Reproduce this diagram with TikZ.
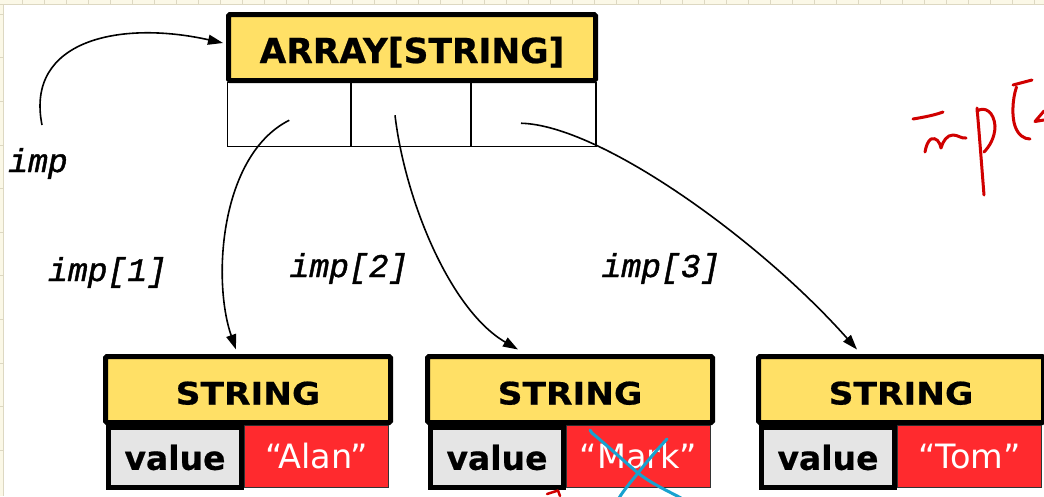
\documentclass[tikz,border=0pt]{standalone}
\usepackage{fontspec}
\setmainfont{DejaVu Sans}[BoldFeatures={FakeBold=0.6}]
\newfontfamily\monofont{Liberation Mono}[FakeBold=1.3]
\newfontfamily\strfont{DejaVu Sans}[FakeStretch=1.11, BoldFeatures={FakeBold=0.6}]
\usetikzlibrary{arrows.meta}
\definecolor{hdyellow}{HTML}{FFE066}
\definecolor{valred}{HTML}{FF2A2E}
\definecolor{valgray}{HTML}{E5E5E5}
\definecolor{cream}{HTML}{FBF8E7}
\definecolor{creamline}{HTML}{DDD8C2}
\definecolor{inkred}{HTML}{D00000}
\definecolor{inkblue}{HTML}{18A2CF}
\tikzset{
  hdbox/.style={draw=black, line width=5pt, fill=hdyellow, rounded corners=1.5pt, inner sep=0pt,
    font=\strfont\bfseries\fontsize{31}{31}\selectfont, text height=30pt, text depth=0pt},
  arrhd/.style={draw=black, line width=5pt, fill=hdyellow, rounded corners=1.5pt, inner sep=0pt,
    font=\bfseries\fontsize{34.5}{34.5}\selectfont, text height=31pt, text depth=0pt},
  cellbox/.style={draw=black, line width=1.5pt, fill=white, inner sep=0pt},
  valbox/.style={draw=black, line width=5pt, fill=valgray, inner sep=0pt,
    font=\bfseries\fontsize{33}{33}\selectfont},
  redbox/.style={draw=black!80, line width=1pt, fill=valred, text=white, inner sep=0pt,
    font=\fontsize{33.5}{33.5}\selectfont},
  lbl/.style={font=\monofont\itshape\fontsize{33}{33}\selectfont, inner sep=0pt, anchor=base},
  ptr/.style={line width=1.6pt, -{Triangle[length=15pt,width=10pt]}},
  inkr/.style={draw=inkred, line width=3pt, line cap=round, line join=round},
  inkb/.style={draw=inkblue, line width=3pt, line cap=round, line join=round}
}
\newcommand\strbox[3]{%
  \node[redbox, minimum width=144pt, minimum height=62pt] (r#1) at (316.5+#2,456.5) {#3};
  \node[valbox, minimum width=133pt, minimum height=60pt] (v#1) at (175+#2,457.5) {value};
  \node[hdbox, minimum width=285pt, minimum height=66pt] (s#1) at (248+#2,389.5) {STRING};
}
\begin{document}
\begin{tikzpicture}[x=1pt,y=-1pt]
\useasboundingbox (0,0) rectangle (1044,496);
\fill[white] (0,0) rectangle (1044,496);
% spreadsheet margins
\fill[cream] (0,0) rectangle (1044,4.5);
\fill[cream] (0,0) rectangle (3,496);
\draw[creamline, line width=0.8pt] (0,4.5) -- (1044,4.5);
\draw[creamline, line width=0.8pt] (3,4.5) -- (3,496);
\foreach \i in {0,...,46} \draw[creamline, line width=0.6pt] (22.5+22*\i,0) -- (22.5+22*\i,4.5);
\foreach \i in {0,...,10} \draw[creamline, line width=0.6pt] (0,14+43.6*\i) -- (3,14+43.6*\i);

% array
\node[cellbox, minimum width=123.5pt, minimum height=64pt] (c1) at (289.25,114.25) {};
\node[cellbox, minimum width=120pt, minimum height=64pt] (c2) at (411,114.25) {};
\node[cellbox, minimum width=125pt, minimum height=64pt] (c3) at (533.5,114.25) {};
\node[arrhd, minimum width=367pt, minimum height=66pt] (arr) at (412,47.5) {ARRAY[STRING]};

% string objects
\strbox{1}{0}{“Alan”}
\strbox{2}{322}{“Mark”}
\strbox{3}{653}{“Tom”}

% labels
\node[lbl] (limp) at (38,172) {imp};
\node[lbl] (l1) at (107.5,281) {imp[1]};
\node[lbl] (l2) at (349,277) {imp[2]};
\node[lbl] (l3) at (661,277) {imp[3]};

% pointers
\coordinate (impstart) at (42,125);
\draw[ptr] (impstart) .. controls (25,40) and (120,20) .. ([xshift=-3pt,yshift=4.5pt]arr.west);
\draw[ptr] ([yshift=-6pt]c1.center) .. controls (220,155) and (212,280) .. ([xshift=-12pt,yshift=4.5pt]s1.north);
\draw[ptr] ([xshift=-16pt,yshift=-1pt]c2.center) .. controls (405,200) and (450,310) .. ([xshift=-52pt,yshift=4.5pt]s2.north);
\draw[ptr] ([xshift=-12.5pt,yshift=-9pt]c3.center) .. controls (600,125) and (760,240) .. ([xshift=-44pt,yshift=4.5pt]s3.north);

% handwritten annotations
\draw[inkr] (913,119) .. controls (925,117) and (935,115) .. (943,112);
\draw[inkr] (925,152) .. controls (926,146) and (928,141) .. (931,139) .. controls (936,137) and (940,142) .. (941,148)
  .. controls (943,141) and (947,135) .. (953,135) .. controls (958,135) and (962,139) .. (966,138);
\draw[inkr] (977,108) .. controls (979,130) and (982,170) .. (984,195);
\draw[inkr] (977,111) .. controls (985,106) and (994,112) .. (995,126) .. controls (995,138) and (989,147) .. (984,152);
\draw[inkr] (1013,85) -- (1032,80);
\draw[inkr] (1016.5,87) .. controls (1012,100) and (1012,118) .. (1015,126) .. controls (1018,135) and (1024,139) .. (1030,139);
\draw[inkr] (1044,111) -- (1035,121.5) -- (1044,120);
\draw[inkr, line width=2.5pt] (547,494) -- (558,490.5) -- (560,496);
\draw[inkb] (590,430) -- (592,433) .. controls (610,448) and (625,462) .. (638,473) .. controls (652,484) and (668,491) .. (681,498);
\draw[inkb] (667,439) .. controls (655,452) and (645,464) .. (638,473) .. controls (630,483) and (624,490) .. (619,498);
\end{tikzpicture}
\end{document}
